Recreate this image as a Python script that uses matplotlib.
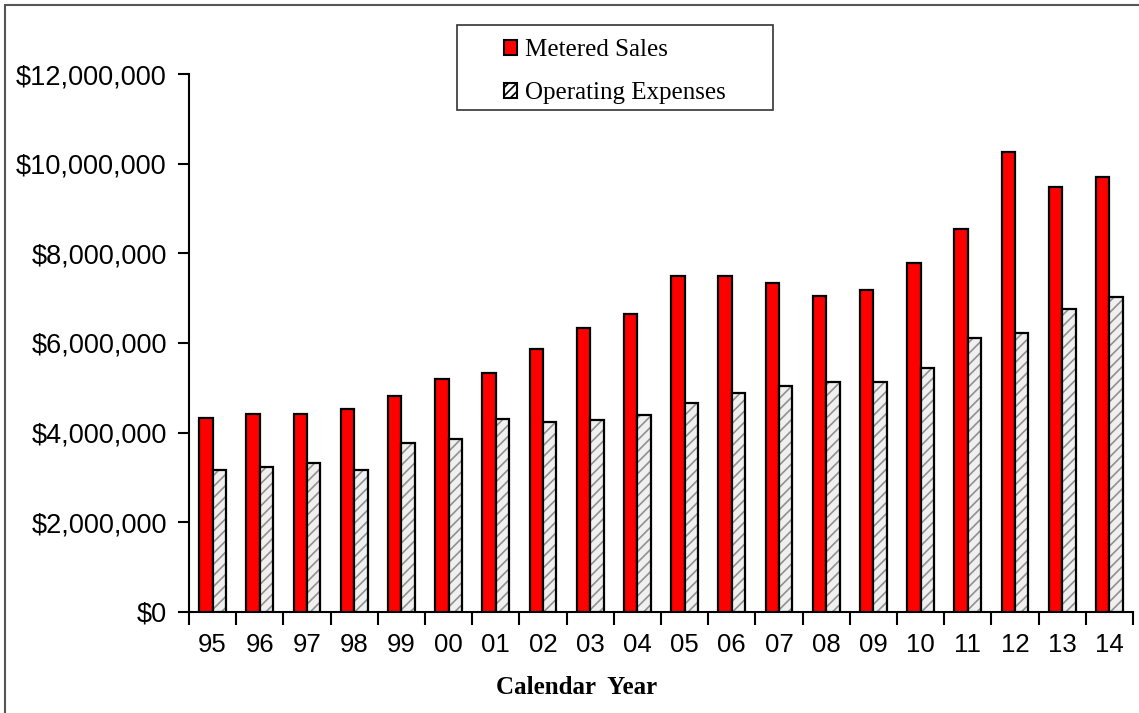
import numpy as np
import matplotlib.pyplot as plt
from matplotlib.patches import Rectangle
from matplotlib.ticker import FuncFormatter

plt.rcParams['hatch.linewidth'] = 1.2

years = ["95", "96", "97", "98", "99", "00", "01", "02", "03", "04",
         "05", "06", "07", "08", "09", "10", "11", "12", "13", "14"]
metered_sales = [4.32, 4.42, 4.41, 4.52, 4.82, 5.20, 5.33, 5.87, 6.33, 6.65,
                 7.50, 7.50, 7.34, 7.05, 7.18, 7.78, 8.55, 10.27, 9.47, 9.70]
operating_expenses = [3.17, 3.23, 3.32, 3.17, 3.77, 3.86, 4.30, 4.24, 4.28, 4.39,
                      4.67, 4.88, 5.04, 5.13, 5.13, 5.44, 6.11, 6.22, 6.75, 7.02]

metered_sales = np.array(metered_sales) * 1e6
operating_expenses = np.array(operating_expenses) * 1e6

W, H = 1139, 713
fig = plt.figure(figsize=(W / 100, H / 100), dpi=100)
ax = fig.add_axes([189 / W, 1 - 612 / H, (1133 - 189) / W, (612 - 74) / H])

x = np.arange(len(years))
w = 0.285
ax.bar(x - w / 2, metered_sales, w, color='#ff0000', edgecolor='black',
       linewidth=1.6, label='Metered Sales', zorder=3)
# gray hatch first, then black outline on top
ax.bar(x + w / 2, operating_expenses, w, color='#f0f0f0', edgecolor='#909090',
       hatch='///', linewidth=0, zorder=3)
ax.bar(x + w / 2, operating_expenses, w, fill=False, edgecolor='black',
       linewidth=1.6, zorder=4)

ax.set_xlim(-0.5, len(years) - 0.5)
ax.set_ylim(0, 12e6)
ax.set_yticks(np.arange(0, 12e6 + 1, 2e6))
ax.yaxis.set_major_formatter(FuncFormatter(lambda v, p: "${:,.0f}".format(v)))

ax.set_xticks(x)
ax.set_xticklabels(years)
ax.set_xticks(np.arange(-0.5, len(years)), minor=True)
ax.tick_params(axis='x', which='major', length=0, pad=15, labelsize=18.5)
ax.tick_params(axis='x', which='minor', length=9, width=1.5, direction='out')
ax.tick_params(axis='y', length=8, width=1.5, direction='out', pad=8, labelsize=19.5)
for lab in ax.get_xticklabels() + ax.get_yticklabels():
    lab.set_fontfamily('Liberation Sans')

for s in ['top', 'right']:
    ax.spines[s].set_visible(False)
for s in ['left', 'bottom']:
    ax.spines[s].set_linewidth(1.5)

fig.text(577 / W, 1 - 687 / H, "Calendar  Year", ha='center', va='center',
         fontfamily='Liberation Serif', fontweight='bold', fontsize=18)

# legend: custom handles so the hatch looks like the bars
h1 = Rectangle((0, 0), 1, 1, facecolor='#ff0000', edgecolor='black', linewidth=1.5)
h2 = Rectangle((0, 0), 1, 1, facecolor='white', edgecolor='black', hatch='////',
               linewidth=1.5)
leg = fig.legend([h1, h2], ['Metered Sales', 'Operating Expenses'],
                 loc='center left', bbox_to_anchor=(481 / W, 1 - 71.5 / H),
                 frameon=False, prop={'family': 'Liberation Serif', 'size': 18},
                 handlelength=0.55, handleheight=0.55, handletextpad=0.3,
                 labelspacing=0.85)
fig.patches.append(Rectangle((457 / W, 1 - 110 / H), (773 - 457) / W, 85 / H,
                             transform=fig.transFigure, fill=False,
                             edgecolor='#333333', linewidth=1.2))

# outer chart border
fig.patches.append(Rectangle((5 / W, -0.05), 1.1, 1 - 5 / H + 0.05,
                             transform=fig.transFigure, fill=False,
                             edgecolor='#555555', linewidth=1.5))

fig.savefig('out.png', dpi=100)
